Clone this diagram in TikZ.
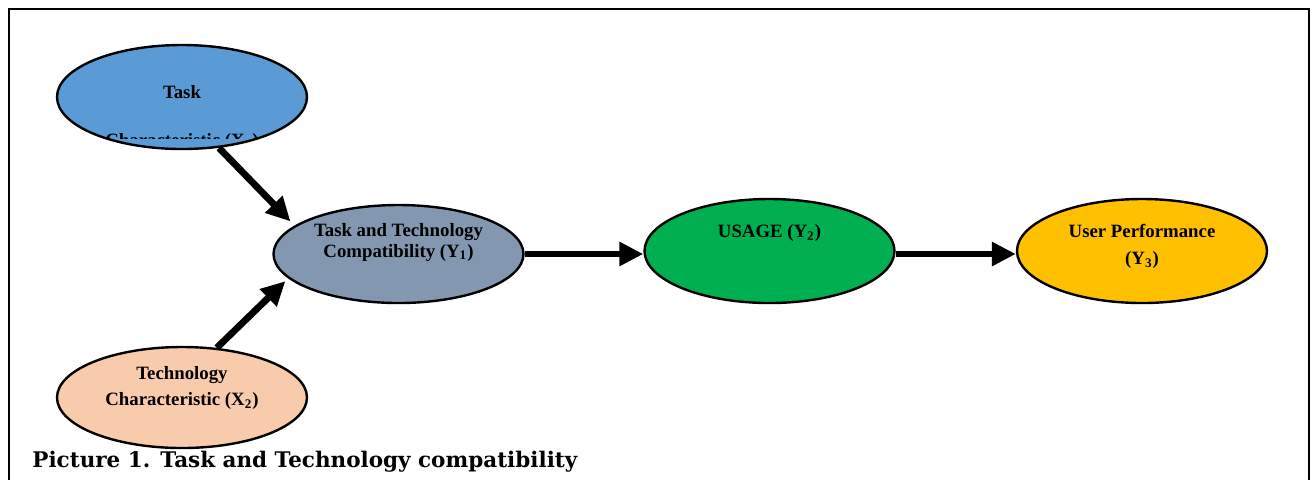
\documentclass[tikz,border=0pt]{standalone}
\usepackage{fontspec}
\usepackage{xcolor}
\usepackage{tikz}
\usetikzlibrary{shapes.geometric,arrows.meta}
\setmainfont{Liberation Serif}
\newfontfamily\capfont{DejaVu Serif}

\definecolor{taskblue}{HTML}{5B9BD5}
\definecolor{techpeach}{HTML}{F8CBAD}
\definecolor{ttcgray}{HTML}{8497B0}
\definecolor{usagegreen}{HTML}{00B050}
\definecolor{perfgold}{HTML}{FFC000}

\tikzset{
	blob/.style={ellipse,draw=black,line width=1.2pt,inner sep=0pt,minimum width=125pt,minimum height=51pt},
	lbl/.style={align=center,inner sep=0pt,font=\bfseries\fontsize{9.4}{10.5}\selectfont},
	flow/.style={line width=3.4pt,-{Triangle[length=12pt,width=11.5pt]}}
}

\begin{document}
\begin{tikzpicture}[x=0.5pt,y=-0.5pt]
	\useasboundingbox (0,0) rectangle (1316,479);
	\clip (0,0) rectangle (1316,479);
	\draw [line width=1.1pt,black] (9,9) rectangle (1309,500);
	\node[blob,fill=taskblue,minimum height=52pt] at (182,97) (task) {};
	\node[blob,fill=techpeach,minimum height=50.5pt] at (182,397.5) (tech) {};
	\node[blob,fill=ttcgray,minimum height=49pt] at (398.5,254) (ttc) {};
	\node[blob,fill=usagegreen,minimum height=52pt] at (769.5,251) (usage) {};
	\node[blob,fill=perfgold,minimum height=52pt] at (1142,251) (perf) {};
	\node[lbl] at ([yshift=2.5pt]task.center) (tasktxt) {Task};
	\begin{scope}
		\clip (50,100) rectangle (320,138);
		\node[lbl] at ([yshift=-22.5pt]task.center) (taskcut) {Characteristic (X\textsubscript{1})};
	\end{scope}
	\node[lbl,font=\bfseries\fontsize{9.4}{13}\selectfont] at ([yshift=4.75pt]tech.center) (techtxt) {Technology\\Characteristic (X\textsubscript{2})};
	\node[lbl] at ([yshift=5.75pt]ttc.center) (ttctxt) {Task and Technology\\Compatibility (Y\textsubscript{1})};
	\node[lbl] at ([yshift=9pt]usage.center) (usagetxt) {USAGE (Y\textsubscript{2})};
	\node[lbl,font=\bfseries\fontsize{9.4}{13.5}\selectfont] at ([yshift=2.25pt]perf.center) (perftxt) {User Performance\\(Y\textsubscript{3})};
	\draw [flow] (task.-54) -- ([shift={(-4pt,1pt)}]ttc.163);
	\draw [flow] (tech.55) -- ([shift={(-2pt,-1pt)}]ttc.-167);
	\draw [flow] (ttc.east) -- (ttc.east -| usage.west);
	\draw [flow] (usage.east |- ttc.east) -- (ttc.east -| perf.west);
	\node[anchor=base west,inner sep=0pt,font=\capfont\bfseries\fontsize{10.75}{13}\selectfont] at (32,467) (caption) {Picture 1. Task and Technology compatibility};
\end{tikzpicture}
\end{document}
